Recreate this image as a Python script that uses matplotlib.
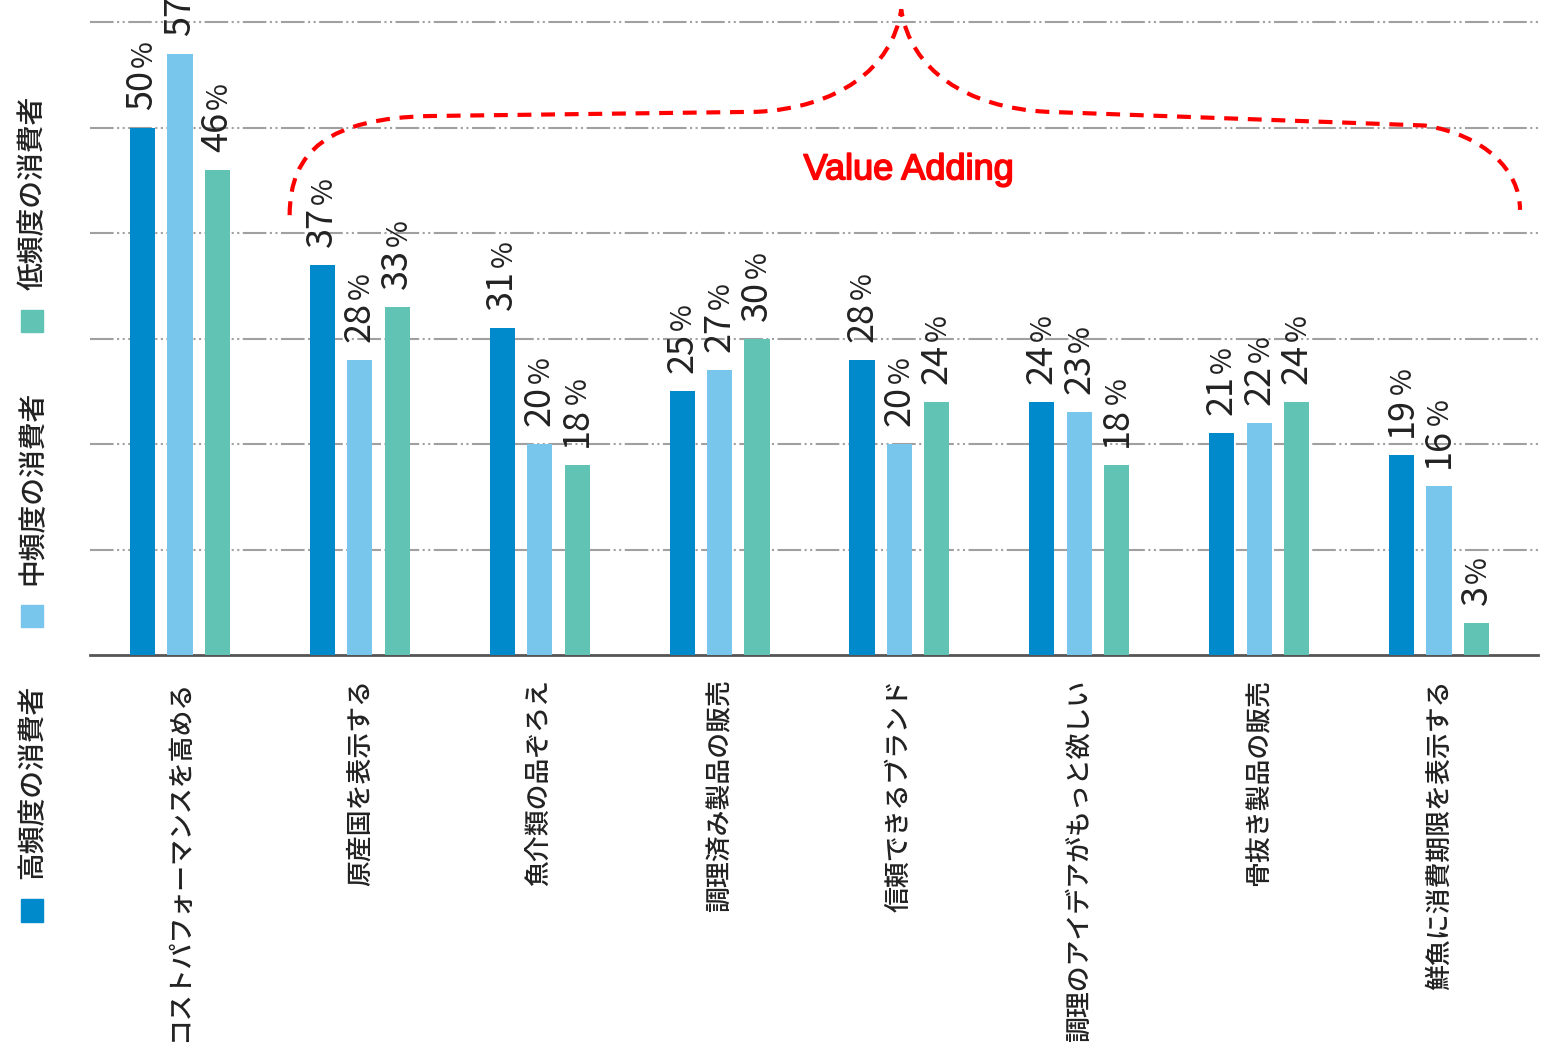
import matplotlib
matplotlib.use("Agg")
import matplotlib.pyplot as plt
import matplotlib.patheffects as pe
from matplotlib.path import Path
from matplotlib.patches import PathPatch, Rectangle
import numpy as np

plt.rcParams['font.family'] = ['Noto Sans CJK JP', 'DejaVu Sans']
plt.rcParams['lines.scale_dashes'] = False

categories = ["コストパフォーマンスを高める", "原産国を表示する", "魚介類の品ぞろえ",
              "調理済み製品の販売", "信頼できるブランド", "調理のアイデアがもっと欲しい",
              "骨抜き製品の販売", "鮮魚に消費期限を表示する"]
high_freq = [50, 37, 31, 25, 28, 24, 21, 19]
mid_freq = [57, 28, 20, 27, 20, 23, 22, 16]
low_freq = [46, 33, 18, 30, 24, 18, 24, 3]
series_names = ["高頻度の消費者", "中頻度の消費者", "低頻度の消費者"]
colors = ["#008acc", "#78c6ec", "#60c3b4"]

# brace over the value-adding group (category units, percent)
brace_x = [0.61, 0.61, 0.83, 1.39, 3.21, 3.65, 3.96, 4.01,
           4.06, 4.37, 4.82, 6.92, 7.25, 7.45, 7.45]
brace_y = [41.7, 47.8, 50.9, 51.1, 51.5, 51.9, 55.5, 61.2,
           55.5, 51.9, 51.5, 50.2, 49.3, 46.0, 42.2]
brace_codes = [Path.MOVETO, Path.CURVE4, Path.CURVE4, Path.CURVE4,
               Path.LINETO, Path.CURVE4, Path.CURVE4, Path.CURVE4,
               Path.CURVE4, Path.CURVE4, Path.CURVE4,
               Path.LINETO, Path.CURVE4, Path.CURVE4, Path.CURVE4]

fig = plt.figure(figsize=(15.49, 10.52), dpi=100)
ax = fig.add_axes([0.0581, 0.3774, 0.9348, 0.6226])

x = np.arange(len(categories))
width = 0.14
offsets = [-0.208, 0.0, 0.208]

for vals, off, col in zip([high_freq, mid_freq, low_freq], offsets, colors):
    bars = ax.bar(x + off, vals, width, color=col, zorder=3)
    for b, v in zip(bars, vals):
        num = ax.annotate(str(v), (b.get_x() + b.get_width() / 2, v),
                          xytext=(0, 13), textcoords="offset points",
                          rotation=90, ha="center", va="bottom",
                          fontsize=26, color="#222222", zorder=4)
        # smaller percent sign sitting on the same baseline
        ax.annotate("%", xy=(0.95, 1.0), xycoords=num,
                    xytext=(0, 2), textcoords="offset points", rotation=90,
                    ha="right", va="bottom", fontsize=21, color="#222222")

ax.set_xlim(-0.5, 7.55)
ax.set_ylim(0, 62.1)
ax.set_yticks(np.arange(10, 61, 10))
ax.yaxis.grid(True, color="#a0a0a0", linewidth=1.5,
              linestyle=(0, (17, 2.5, 1.5, 2.5, 1.5, 2.5)))
ax.set_axisbelow(True)
ax.tick_params(axis="y", left=False, labelleft=False)
ax.tick_params(axis="x", bottom=False, pad=14)
for side in ["left", "right", "top"]:
    ax.spines[side].set_visible(False)
ax.spines["bottom"].set_color("#555555")
ax.spines["bottom"].set_linewidth(2)
ax.set_xticks(x)
ax.set_xticklabels(categories, rotation=90, va="top", ha="center",
                   fontsize=18.6, fontweight="medium", color="#222222")

brace = PathPatch(Path(list(zip(brace_x, brace_y)), brace_codes),
                  facecolor="none", edgecolor="#ff0000", linewidth=3,
                  linestyle=(0, (10, 7)), clip_on=False, zorder=5)
ax.add_patch(brace)
ax.text(4.05, 46.0, "Value Adding", ha="center", va="center",
        fontsize=26, color="#ff0000", family="Liberation Sans",
        path_effects=[pe.withStroke(linewidth=1.2, foreground="#ff0000")])

# legend column on the left, read bottom to top
legend_y = [0.124, 0.404, 0.684]
for name, col, ly in zip(series_names, colors, legend_y):
    fig.patches.append(Rectangle((0.0135, ly), 0.0142, 0.021,
                                 transform=fig.transFigure, color=col))
    fig.text(0.0207, ly + 0.04, name, rotation=90, ha="center", va="bottom",
             fontsize=20, fontweight="medium", color="#222222")

fig.savefig("out.png", dpi=100)
